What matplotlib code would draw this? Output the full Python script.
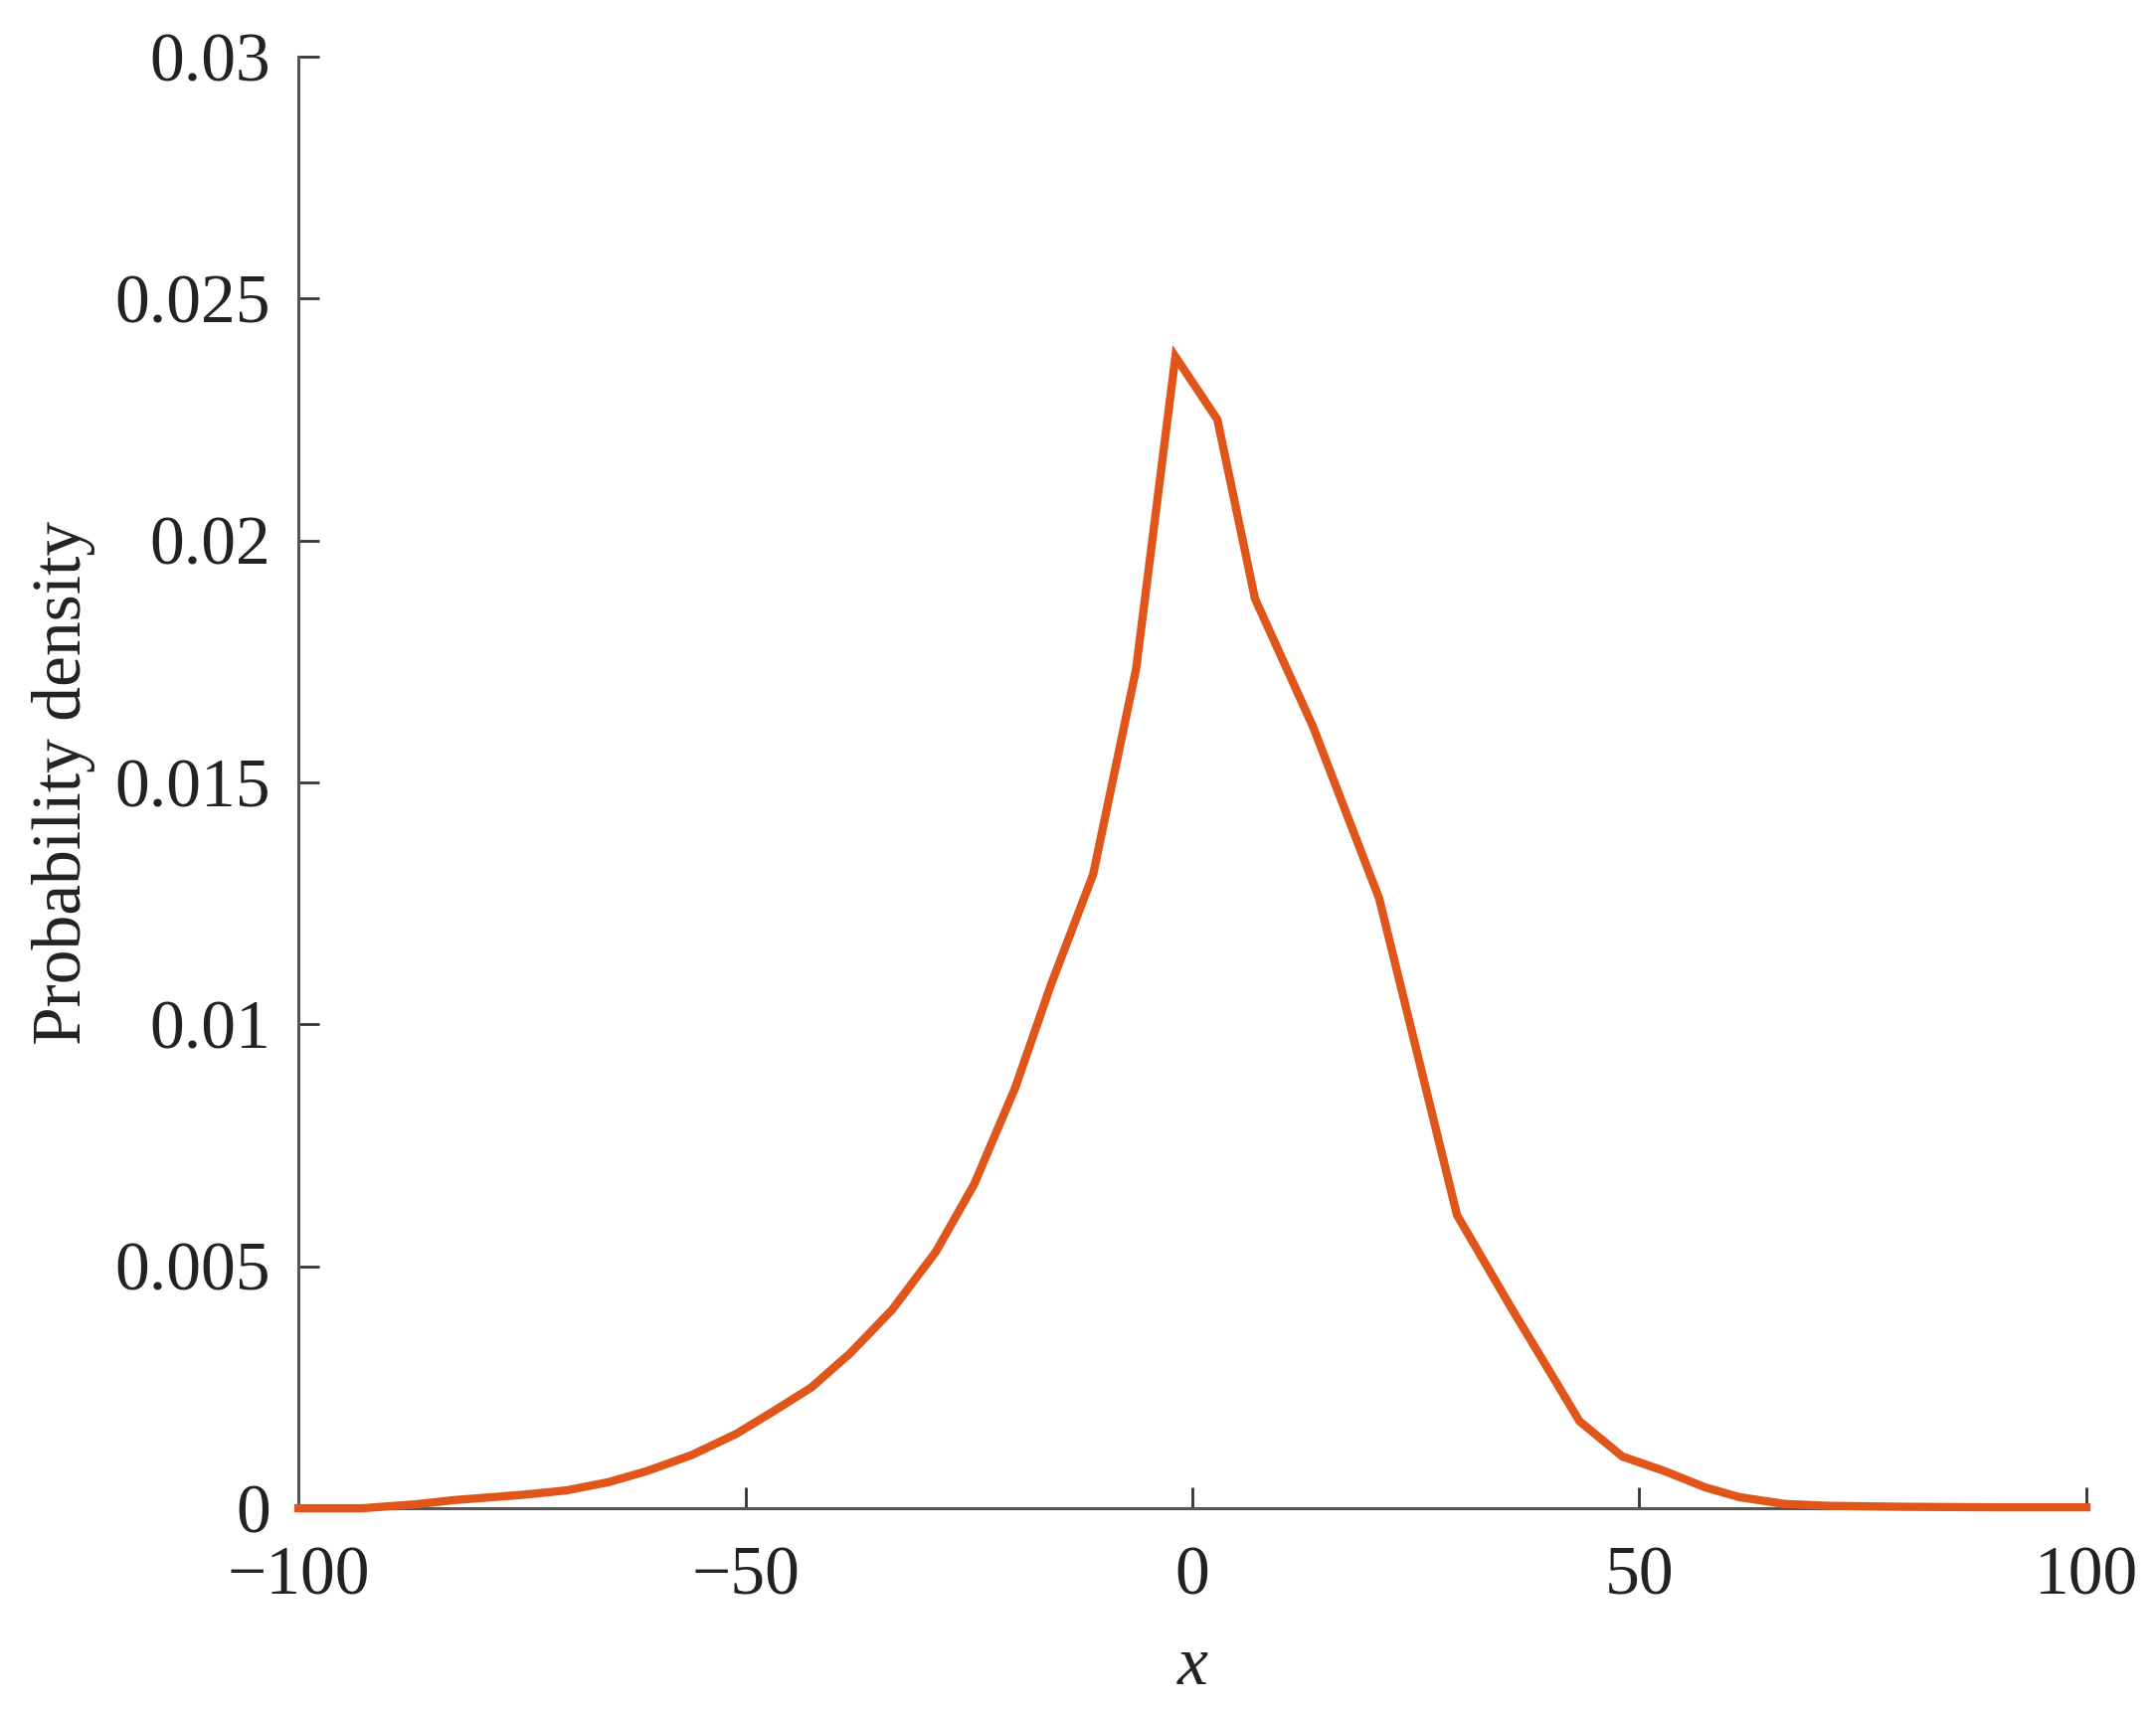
import numpy as np
import matplotlib.pyplot as plt

# values
x_vals = [-100, -92.9, -87, -82.5, -74.8, -70, -65.3, -61, -56, -51, -46.9,
          -42.6, -38.3, -33.6, -28.7, -24.4, -19.8, -15.8, -11.1, -6.3, -1.9,
          2.8, 7.0, 13.5, 20.9, 29.6, 35.8, 39.4, 43.3, 48.1, 52.8, 57.4,
          61.2, 66.2, 71.2, 80, 90, 100]
density = [0, 0, 0.00008, 0.00017, 0.00028, 0.00037, 0.00054, 0.00077,
           0.0011, 0.00154, 0.002, 0.0025, 0.0032, 0.0041, 0.0053, 0.0067,
           0.0087, 0.01083, 0.0131, 0.01734, 0.0238, 0.0225, 0.0188, 0.01615,
           0.0126, 0.00606, 0.0041, 0.003, 0.0018, 0.00107, 0.00077, 0.00043,
           0.00023, 0.00009, 0.00005, 0.00003, 0.00002, 0.00002]

x_ticks = [-100, -50, 0, 50, 100]
x_tick_labels = ["\u2212100", "\u221250", "0", "50", "100"]
y_ticks = [0, 0.005, 0.01, 0.015, 0.02, 0.025, 0.03]
y_tick_labels = ["0", "0.005", "0.01", "0.015", "0.02", "0.025", "0.03"]

plt.rcParams["font.family"] = ["Liberation Serif", "DejaVu Serif"]

fig = plt.figure(figsize=(21.68, 17.22), dpi=100)
ax = fig.add_axes([0.1384, 0.1190, 0.8293, 0.8479])

ax.plot(x_vals, density, color="#e0561a", lw=6, solid_joinstyle="miter",
        clip_on=False, zorder=3)

ax.set_xlim(-100, 100)
ax.set_ylim(0, 0.03)
ax.set_xticks(x_ticks)
ax.set_xticklabels(x_tick_labels)
ax.set_yticks(y_ticks)
ax.set_yticklabels(y_tick_labels)

for side in ["top", "right"]:
    ax.spines[side].set_visible(False)
for side in ["left", "bottom"]:
    ax.spines[side].set_color("#555555")
    ax.spines[side].set_linewidth(2.2)

ax.tick_params(direction="in", length=15, width=2, color="#333333",
               labelsize=50, labelcolor="#222222")
ax.tick_params(axis="y", pad=20)
ax.tick_params(axis="x", pad=27)

ax.set_xlabel("x", fontsize=50, style="italic", labelpad=20, color="#222222")
ax.set_ylabel("Probability density", fontsize=50, labelpad=14, color="#222222")

fig.savefig("out.png", dpi=100, facecolor="white")
